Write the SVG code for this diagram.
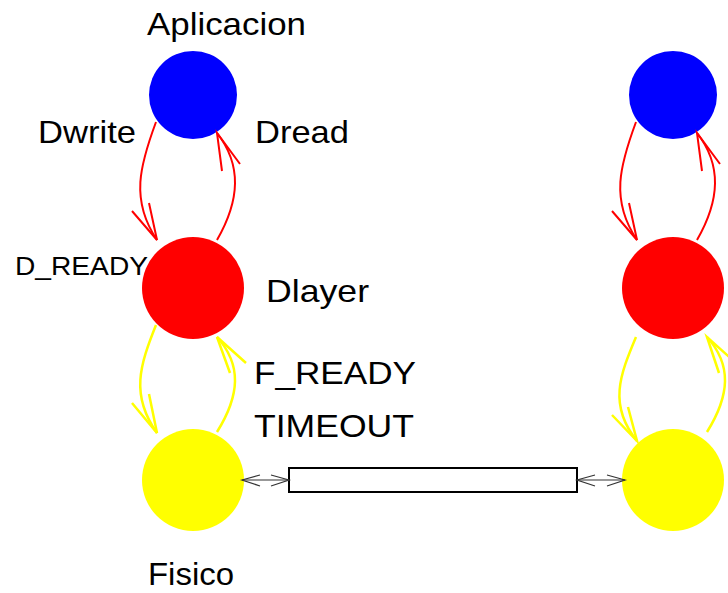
<svg xmlns="http://www.w3.org/2000/svg" width="728" height="593" viewBox="0 0 728 593">
<style>
text{font-family:"Liberation Sans",Arial,sans-serif;font-size:32px;fill:#000}
.r{fill:none;stroke:#f00;stroke-width:2}
.y{fill:none;stroke:#ff0;stroke-width:2.5}
.c{fill:none;stroke:#333;stroke-width:1.2}
</style>
<rect width="728" height="593" fill="#fff"/>
<g id="labels">
<text x="147" y="35" textLength="159" lengthAdjust="spacingAndGlyphs">Aplicacion</text>
<text x="38" y="143" textLength="98" lengthAdjust="spacingAndGlyphs">Dwrite</text>
<text x="255" y="143" textLength="94" lengthAdjust="spacingAndGlyphs">Dread</text>
<text x="15" y="275" style="font-size:26px" textLength="133" lengthAdjust="spacingAndGlyphs">D_READY</text>
<text x="266" y="302" textLength="103" lengthAdjust="spacingAndGlyphs">Dlayer</text>
<text x="254" y="384" textLength="162" lengthAdjust="spacingAndGlyphs">F_READY</text>
<text x="254" y="437" textLength="160" lengthAdjust="spacingAndGlyphs">TIMEOUT</text>
<text x="148" y="585" textLength="86" lengthAdjust="spacingAndGlyphs">Fisico</text>
</g>
<g id="aplicacion1"><circle cx="193" cy="95" r="44" fill="#00f"/></g>
<g id="dlayer1"><circle cx="193" cy="288" r="51" fill="#f00"/></g>
<g id="fisico1"><circle cx="193" cy="480" r="51" fill="#ff0"/></g>
<g id="aplicacion2"><circle cx="673" cy="95" r="44" fill="#00f"/></g>
<g id="dlayer2"><circle cx="673" cy="288" r="51" fill="#f00"/></g>
<g id="fisico2"><circle cx="673" cy="480" r="51" fill="#ff0"/></g>
<g id="channel"><rect x="289" y="468" width="288" height="24" fill="#fff" stroke="#000" stroke-width="2"/></g>
<g id="connectors">
<path class="r" d="M156,122 C140,165 130,200 157,240"/>
<polyline class="r" points="132,211 157,240 149,203"/>
<path class="r" d="M217,240 C240,200 242,165 217,133"/>
<polyline class="r" points="240,164 217,133 222,171"/>
<path class="y" d="M156,325 C140,365 130,395 157,433"/>
<polyline class="y" points="132,403 157,433 149,394"/>
<path class="y" d="M217,432 C240,395 242,365 217,337"/>
<polyline class="y" points="246,363 217,337 230,373"/>
<path class="r" d="M636,122 C620,165 610,200 637,240"/>
<polyline class="r" points="612,211 637,240 629,203"/>
<path class="r" d="M697,240 C720,200 722,165 697,133"/>
<polyline class="r" points="720,164 697,133 702,171"/>
<path class="y" d="M636,337 C620,375 608,405 637,441"/>
<polyline class="y" points="612,415 637,441 628,407"/>
<path class="y" d="M707,432 C730,395 732,365 707,337"/>
<polyline class="y" points="736,363 707,337 719,373"/>
<line class="c" x1="242" y1="480" x2="289" y2="480"/>
<polyline class="c" points="260,475 242,480 260,486"/>
<polyline class="c" points="271,475 289,480 271,486"/>
<line class="c" x1="577" y1="480" x2="625" y2="480"/>
<polyline class="c" points="595,475 577,480 595,486"/>
<polyline class="c" points="607,475 625,480 607,486"/>
</g>
</svg>
